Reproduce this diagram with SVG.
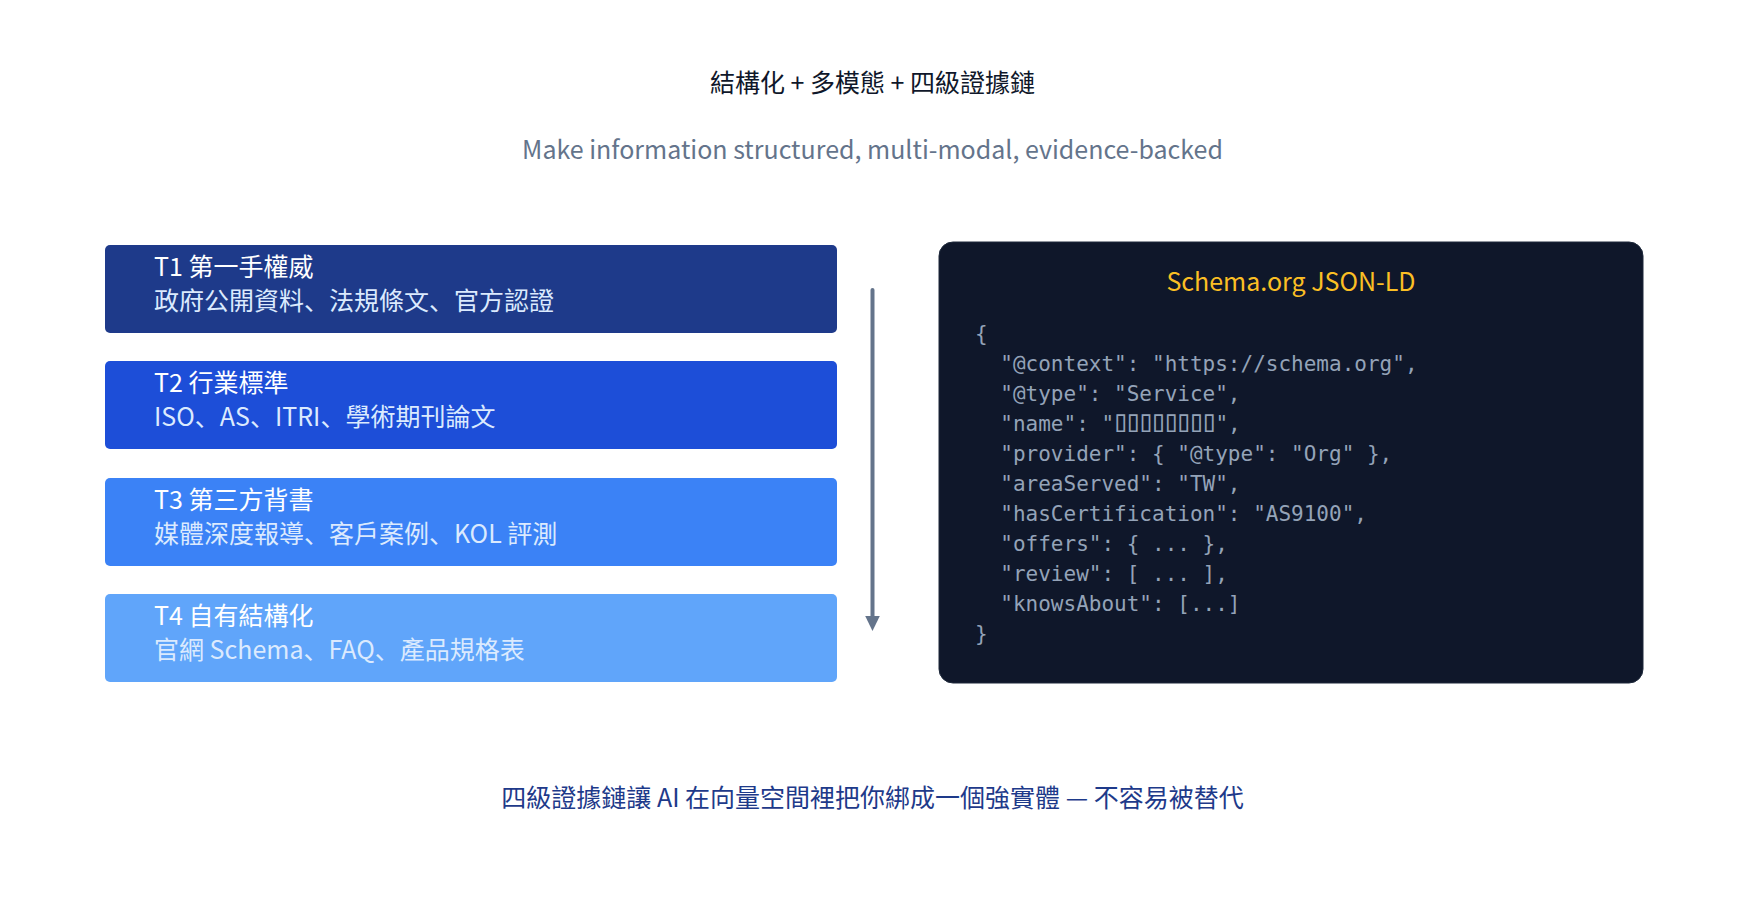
<svg xmlns="http://www.w3.org/2000/svg" width="1745" height="903" viewBox="0 0 1745 903">
<style>
.sans{font-family:"Noto Sans CJK SC","Noto Sans CJK TC",sans-serif}
.title{font-size:25px;fill:#0f172a}
.sub{font-size:25px;fill:#64748b}
.bt{font-size:25px;fill:#ffffff}
.bs{font-size:25px;fill:#dbeafe}
.code{font-family:"DejaVu Sans Mono",monospace;font-size:21px;fill:#94a3b8}
.foot{font-size:25px;fill:#1e3a8a}
</style>
<defs>
<marker id="ah" markerUnits="userSpaceOnUse" markerWidth="16" markerHeight="16" refX="6" refY="7.3" orient="auto">
<path d="M0,0 L15,7.3 L0,14.6 z" fill="#64748b"/>
</marker>
</defs>
<rect width="1745" height="903" fill="#ffffff"/>
<text class="sans title" x="872.5" y="92" text-anchor="middle">結構化 + 多模態 + 四級證據鏈</text>
<text class="sans sub" x="872.5" y="159" text-anchor="middle">Make information structured, multi-modal, evidence-backed</text>

<g id="t1">
<rect x="105" y="245" width="732" height="88" rx="5" fill="#1e3a8a"/>
<text class="sans bt" x="154" y="276">T1 第一手權威</text>
<text class="sans bs" x="154" y="310">政府公開資料、法規條文、官方認證</text>
</g>
<g id="t2">
<rect x="105" y="361" width="732" height="88" rx="5" fill="#1d4ed8"/>
<text class="sans bt" x="154" y="392">T2 行業標準</text>
<text class="sans bs" x="154" y="426">ISO、AS、ITRI、學術期刊論文</text>
</g>
<g id="t3">
<rect x="105" y="478" width="732" height="88" rx="5" fill="#3b82f6"/>
<text class="sans bt" x="154" y="509">T3 第三方背書</text>
<text class="sans bs" x="154" y="543">媒體深度報導、客戶案例、KOL 評測</text>
</g>
<g id="t4">
<rect x="105" y="594" width="732" height="88" rx="5" fill="#60a5fa"/>
<text class="sans bt" x="154" y="625">T4 自有結構化</text>
<text class="sans bs" x="154" y="659">官網 Schema、FAQ、產品規格表</text>
</g>

<g id="connectors">
<line x1="872.5" y1="290" x2="872.5" y2="622" stroke="#64748b" stroke-width="4" stroke-linecap="round" marker-end="url(#ah)"/>
</g>

<g id="schema">
<rect x="939" y="242" width="704" height="441" rx="14" fill="#0f172a" stroke="#1e293b" stroke-width="1"/>
<text class="sans" x="1291" y="291" text-anchor="middle" font-size="25" fill="#fbbf24">Schema.org JSON-LD</text>
<text class="code" x="975" y="341">{</text>
<text class="code" x="1000.3" y="371">"@context": "https://schema.org",</text>
<text class="code" x="1000.3" y="401">"@type": "Service",</text>
<text class="code" x="1000.3" y="431">"name": "<tspan x="1111.4" font-size="30" letter-spacing="-5.42">▯▯▯▯▯▯▯▯</tspan><tspan x="1215.4">",</tspan></text>
<text class="code" x="1000.3" y="461">"provider": { "@type": "Org" },</text>
<text class="code" x="1000.3" y="491">"areaServed": "TW",</text>
<text class="code" x="1000.3" y="521">"hasCertification": "AS9100",</text>
<text class="code" x="1000.3" y="551">"offers": { ... },</text>
<text class="code" x="1000.3" y="581">"review": [ ... ],</text>
<text class="code" x="1000.3" y="611">"knowsAbout": [...]</text>
<text class="code" x="975" y="641">}</text>
</g>

<text class="sans foot" x="872.5" y="807" text-anchor="middle">四級證據鏈讓 AI 在向量空間裡把你綁成一個強實體 — 不容易被替代</text>
</svg>
